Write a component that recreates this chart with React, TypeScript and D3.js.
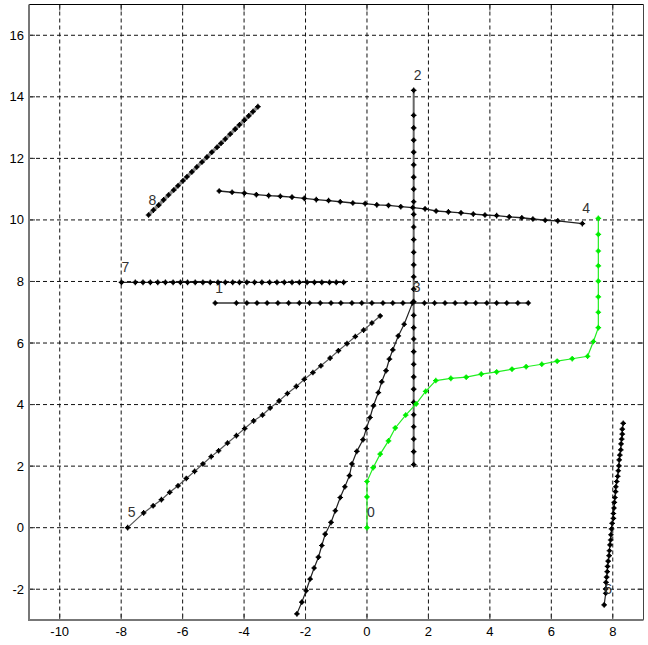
import React, { Component } from 'react'
import * as d3 from 'd3'

type Pt = [number, number]

const xTicks = [-10, -8, -6, -4, -2, 0, 2, 4, 6, 8]
const yTicks = [-2, 0, 2, 4, 6, 8, 10, 12, 14, 16]

// each track is listed from its first (labelled) point
const track0: Pt[] = [[0, 0], [0, 1.0], [0, 1.5], [0.2, 1.95], [0.43, 2.39], [0.7, 2.82], [0.92, 3.24], [1.26, 3.66], [1.6, 4.02], [1.91, 4.43], [2.24, 4.78], [2.73, 4.85], [3.23, 4.89], [3.72, 4.99], [4.22, 5.06], [4.72, 5.15], [5.18, 5.23], [5.69, 5.31], [6.19, 5.41], [6.68, 5.49], [7.18, 5.57], [7.37, 6.05], [7.53, 6.5], [7.53, 7.0], [7.53, 7.5], [7.53, 8.01], [7.53, 8.51], [7.53, 8.99], [7.53, 9.53], [7.53, 10.05]]

const track1: Pt[] = [[-4.94, 7.3], [-4.25, 7.3], [-3.91, 7.3], [-3.58, 7.3], [-3.25, 7.3], [-2.9, 7.3], [-2.55, 7.3], [-2.2, 7.3], [-1.87, 7.3], [-1.52, 7.3], [-1.17, 7.3], [-0.85, 7.3], [-0.49, 7.3], [-0.17, 7.3], [0.16, 7.3], [0.52, 7.3], [0.84, 7.3], [1.17, 7.3], [1.49, 7.3], [1.87, 7.3], [2.2, 7.3], [2.54, 7.3], [2.87, 7.3], [3.22, 7.3], [3.54, 7.3], [3.9, 7.3], [4.22, 7.3], [4.55, 7.3], [4.91, 7.3], [5.25, 7.3]]

const track2: Pt[] = [[1.52, 14.21], [1.52, 13.4], [1.52, 12.99], [1.52, 12.59], [1.52, 12.2], [1.52, 11.79], [1.52, 11.39], [1.52, 11.0], [1.52, 10.59], [1.52, 10.18], [1.52, 9.77], [1.52, 9.36], [1.52, 8.95], [1.52, 8.54], [1.52, 8.15], [1.52, 7.75], [1.52, 7.35], [1.52, 6.9], [1.52, 6.5], [1.52, 6.13], [1.52, 5.72], [1.52, 5.31], [1.52, 4.9], [1.52, 4.5], [1.52, 4.07], [1.52, 3.67], [1.52, 3.28], [1.52, 2.88], [1.52, 2.47], [1.52, 2.05]]

const track3: Pt[] = [[1.49, 7.32], [1.21, 6.61], [1.02, 6.23], [0.84, 5.78], [0.73, 5.48], [0.62, 5.1], [0.48, 4.74], [0.37, 4.39], [0.21, 3.96], [0.1, 3.58], [-0.02, 3.22], [-0.13, 2.86], [-0.33, 2.48], [-0.49, 2.07], [-0.57, 1.69], [-0.72, 1.33], [-0.87, 0.98], [-1.03, 0.55], [-1.17, 0.17], [-1.36, -0.21], [-1.47, -0.58], [-1.58, -0.96], [-1.72, -1.31], [-1.85, -1.67], [-1.98, -2.05], [-2.12, -2.42], [-2.28, -2.8]]

const track4: Pt[] = [[7.01, 9.88], [6.21, 9.97], [5.8, 9.99], [5.4, 10.03], [5.04, 10.07], [4.63, 10.1], [4.22, 10.14], [3.84, 10.16], [3.46, 10.19], [3.06, 10.23], [2.65, 10.26], [2.25, 10.29], [1.89, 10.36], [1.49, 10.4], [1.1, 10.43], [0.7, 10.47], [0.32, 10.49], [-0.06, 10.53], [-0.46, 10.55], [-0.87, 10.59], [-1.25, 10.63], [-1.65, 10.66], [-2.04, 10.7], [-2.44, 10.74], [-2.82, 10.77], [-3.2, 10.79], [-3.6, 10.82], [-3.99, 10.87], [-4.39, 10.9], [-4.81, 10.94]]

const track5: Pt[] = [[-7.79, 0], [-7.27, 0.48], [-6.96, 0.71], [-6.69, 0.91], [-6.42, 1.15], [-6.15, 1.36], [-5.88, 1.6], [-5.61, 1.83], [-5.34, 2.07], [-5.07, 2.31], [-4.83, 2.5], [-4.54, 2.75], [-4.25, 2.99], [-3.98, 3.22], [-3.69, 3.47], [-3.4, 3.66], [-3.15, 3.89], [-2.86, 4.12], [-2.59, 4.36], [-2.3, 4.59], [-2.04, 4.82], [-1.76, 5.04], [-1.5, 5.26], [-1.2, 5.51], [-0.93, 5.75], [-0.65, 5.98], [-0.38, 6.21], [-0.11, 6.42], [0.16, 6.65], [0.43, 6.88]]

const track6: Pt[] = [[7.72, -2.51], [7.77, -2.13], [7.77, -1.99], [7.78, -1.78], [7.8, -1.61], [7.82, -1.43], [7.83, -1.26], [7.85, -1.09], [7.88, -0.91], [7.89, -0.75], [7.91, -0.56], [7.93, -0.4], [7.94, -0.23], [7.96, -0.04], [7.98, 0.14], [8.02, 0.3], [8.02, 0.46], [8.04, 0.64], [8.05, 0.82], [8.07, 0.98], [8.09, 1.17], [8.1, 1.33], [8.13, 1.5], [8.16, 1.67], [8.18, 1.85], [8.2, 2.01], [8.21, 2.2], [8.23, 2.36], [8.26, 2.53], [8.27, 2.72], [8.29, 2.88], [8.31, 3.04], [8.31, 3.2], [8.34, 3.39]]

const track7: Pt[] = [[-7.99, 7.97], [-7.54, 7.97], [-7.29, 7.97], [-7.05, 7.97], [-6.81, 7.97], [-6.56, 7.97], [-6.31, 7.97], [-6.07, 7.97], [-5.84, 7.97], [-5.59, 7.97], [-5.34, 7.97], [-5.1, 7.97], [-4.85, 7.97], [-4.61, 7.97], [-4.37, 7.97], [-4.15, 7.97], [-3.91, 7.97], [-3.66, 7.97], [-3.42, 7.97], [-3.17, 7.97], [-2.93, 7.97], [-2.69, 7.97], [-2.44, 7.97], [-2.2, 7.97], [-1.95, 7.97], [-1.71, 7.97], [-1.47, 7.97], [-1.22, 7.97], [-1.0, 7.97], [-0.76, 7.97]]

const track8: Pt[] = [[-7.11, 10.16], [-6.95, 10.32], [-6.78, 10.48], [-6.62, 10.65], [-6.46, 10.81], [-6.29, 10.97], [-6.15, 11.11], [-5.99, 11.27], [-5.86, 11.4], [-5.7, 11.56], [-5.54, 11.72], [-5.37, 11.88], [-5.21, 12.04], [-5.05, 12.2], [-4.88, 12.36], [-4.75, 12.49], [-4.61, 12.63], [-4.45, 12.79], [-4.29, 12.95], [-4.15, 13.09], [-3.99, 13.24], [-3.85, 13.38], [-3.71, 13.52], [-3.55, 13.68]]

const trackLabels = ['0', '1', '2', '3', '4', '5', '6', '7', '8']

class App extends Component {
  svg: SVGSVGElement | null = null

  render() {
    return (
      <svg
        ref={(r) => this.svg = r}
        width={648}
        height={645}
        style={{ position: 'absolute', left: 0, top: 0, background: '#fff' }}
      />
    )
  }

  componentDidMount() {
    this.plot()
  }

  plot() {
    var svg = d3.select(this.svg)
    svg.selectAll('*').remove()

    var left = 29, right = 643.5, top = 4.5, bottom = 620
    var font = '"Liberation Sans", Arial, sans-serif'

    var x = d3.scaleLinear().domain([-11, 9]).range([left, right])
    var y = d3.scaleLinear().domain([-3, 17]).range([bottom, top])

    // dashed grid
    svg.append('g').selectAll('line')
      .data(xTicks).enter().append('line')
      .attr('x1', (d) => x(d)).attr('x2', (d) => x(d))
      .attr('y1', top).attr('y2', bottom)
      .attr('stroke', '#111').attr('stroke-dasharray', '4,3')

    svg.append('g').selectAll('line')
      .data(yTicks).enter().append('line')
      .attr('y1', (d) => y(d)).attr('y2', (d) => y(d))
      .attr('x1', left).attr('x2', right)
      .attr('stroke', '#111').attr('stroke-dasharray', '4,3')

    // inward ticks
    var ticks = svg.append('g').attr('stroke', '#333')
    xTicks.forEach((d) => {
      ticks.append('line').attr('x1', x(d)).attr('x2', x(d)).attr('y1', bottom).attr('y2', bottom - 6)
      ticks.append('line').attr('x1', x(d)).attr('x2', x(d)).attr('y1', top).attr('y2', top + 6)
    })
    yTicks.forEach((d) => {
      ticks.append('line').attr('y1', y(d)).attr('y2', y(d)).attr('x1', left).attr('x2', left + 6)
      ticks.append('line').attr('y1', y(d)).attr('y2', y(d)).attr('x1', right).attr('x2', right - 6)
    })

    // box
    svg.append('line').attr('x1', left).attr('x2', right).attr('y1', top).attr('y2', top).attr('stroke', '#000')
    svg.append('line').attr('x1', right).attr('x2', right).attr('y1', top).attr('y2', bottom).attr('stroke', '#444')
    svg.append('line').attr('x1', left).attr('x2', left).attr('y1', top).attr('y2', bottom + 1).attr('stroke', '#777').attr('stroke-width', 2)
    svg.append('line').attr('x1', left - 1).attr('x2', right).attr('y1', bottom).attr('y2', bottom).attr('stroke', '#777').attr('stroke-width', 2)

    // tick labels
    svg.append('g').selectAll('text')
      .data(xTicks).enter().append('text')
      .attr('x', (d) => x(d)).attr('y', bottom + 16)
      .attr('text-anchor', 'middle')
      .attr('font-family', font).attr('font-size', 13)
      .text((d) => String(d))

    svg.append('g').selectAll('text')
      .data(yTicks).enter().append('text')
      .attr('x', left - 5).attr('y', (d) => y(d))
      .attr('dy', '0.35em')
      .attr('text-anchor', 'end')
      .attr('font-family', font).attr('font-size', 13)
      .text((d) => String(d))

    var tracks = [
      { data: track1, label: trackLabels[1], line: '#666', width: 2, mark: '#000' },
      { data: track2, label: trackLabels[2], line: '#666', width: 2, mark: '#000' },
      { data: track3, label: trackLabels[3], line: '#222', width: 1.2, mark: '#000' },
      { data: track4, label: trackLabels[4], line: '#222', width: 1.3, mark: '#000' },
      { data: track5, label: trackLabels[5], line: '#555', width: 1.2, mark: '#000' },
      { data: track6, label: trackLabels[6], line: '#222', width: 1.2, mark: '#000' },
      { data: track7, label: trackLabels[7], line: '#222', width: 1.2, mark: '#000' },
      { data: track8, label: trackLabels[8], line: '#8a8a8a', width: 3.5, mark: '#000' },
      { data: track0, label: trackLabels[0], line: '#22ee22', width: 1.2, mark: '#00ee00' }
    ]

    var line = d3.line<Pt>().x((d) => x(d[0])).y((d) => y(d[1]))

    tracks.forEach((t) => {
      var g = svg.append('g')
      g.append('path')
        .datum(t.data)
        .attr('d', line)
        .attr('fill', 'none')
        .attr('stroke', t.line)
        .attr('stroke-width', t.width)

      var m = g.selectAll('g.mk')
        .data(t.data).enter().append('g')
        .attr('class', 'mk')
        .attr('transform', (d) => 'translate(' + x(d[0]) + ',' + y(d[1]) + ')')
      m.append('circle').attr('r', 2.1).attr('fill', t.mark)
      m.append('path').attr('d', 'M-2.8,0H2.8M0,-2.8V2.8').attr('stroke', t.mark).attr('stroke-width', 1.2)

      var first = t.data[0]
      g.append('text')
        .attr('x', x(first[0])).attr('y', y(first[1] + 0.5))
        .attr('dy', '0.35em')
        .attr('font-family', font).attr('font-size', 14)
        .attr('fill', '#333')
        .text(t.label)
    })
  }
}

export default App
